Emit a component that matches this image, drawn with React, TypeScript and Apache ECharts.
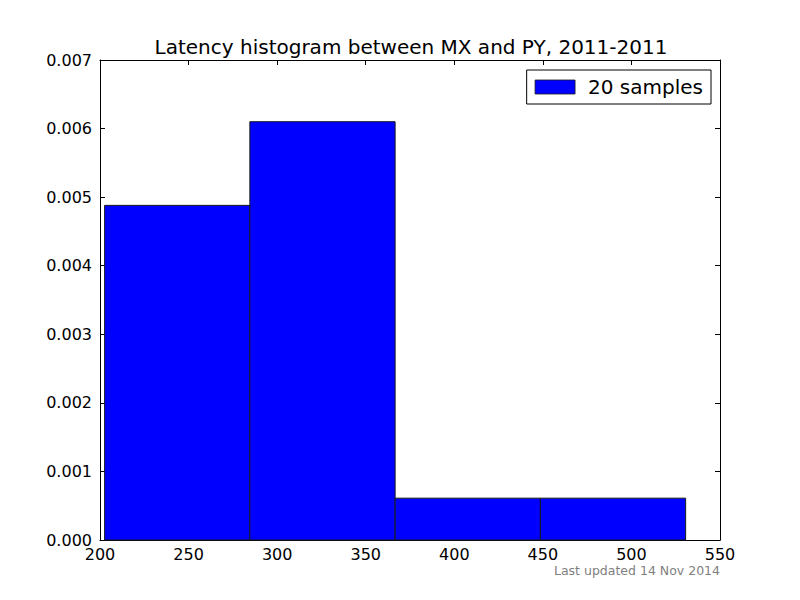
import React, { useEffect, useRef } from "react";
import * as echarts from "echarts";

const binEdges: number[] = [202.6, 284.6, 366.6, 448.6, 530.6];
const densities: number[] = [0.00488, 0.0061, 0.00061, 0.00061];
const xTicks = { min: 200, max: 550, interval: 50 };
const yTicks = { min: 0, max: 0.007, interval: 0.001 };
const seriesName = "20 samples";
const titleText = "Latency histogram between MX and PY, 2011-2011";
const footerText = "Last updated 14 Nov 2014";

const FONT = "DejaVu Sans";

export default function App() {
  const ref = useRef<HTMLDivElement>(null);
  useEffect(() => {
    if (!ref.current) return;
    const chart = echarts.init(ref.current, undefined, { renderer: "svg" });
    const data = densities.map((d, i) => [binEdges[i], binEdges[i + 1], d]);
    const axisCommon = {
      type: "value" as const,
      axisLine: { show: true, onZero: false, lineStyle: { color: "#000", width: 1 } },
      axisTick: { show: true, inside: true, length: 5, lineStyle: { color: "#000" } },
      splitLine: { show: false },
    };
    chart.setOption({
      animation: false,
      backgroundColor: "#fff",
      grid: { left: 100, right: 80, top: 60, bottom: 60 },
      xAxis: [
        {
          ...axisCommon,
          ...xTicks,
          position: "bottom",
          axisLabel: { color: "#000", fontFamily: FONT, fontSize: 16, margin: 6 },
        },
        {
          ...axisCommon,
          ...xTicks,
          position: "top",
          axisLabel: { show: false },
        },
      ],
      yAxis: [
        {
          ...axisCommon,
          ...yTicks,
          position: "left",
          axisLabel: {
            color: "#000",
            fontFamily: FONT,
            fontSize: 16,
            margin: 8,
            formatter: (v: number) => v.toFixed(3),
          },
        },
        {
          ...axisCommon,
          ...yTicks,
          position: "right",
          axisLabel: { show: false },
        },
      ],
      legend: {
        data: [{ name: seriesName, icon: "rect" }],
        right: 89,
        top: 70,
        itemWidth: 40,
        itemHeight: 14,
        itemGap: 0,
        itemStyle: { borderWidth: 0.8, borderColor: "#1a1a1a" },
        padding: [7, 8, 7, 8],
        borderColor: "#000",
        borderWidth: 1,
        backgroundColor: "#fff",
        textStyle: { fontFamily: FONT, fontSize: 20, color: "#000", padding: [0, 0, 0, 8] },
      },
      graphic: [
        {
          type: "text",
          x: 411,
          y: 47,
          style: {
            text: titleText,
            fontFamily: FONT,
            fontSize: 20,
            fill: "#000",
            textAlign: "center",
            textVerticalAlign: "middle",
          },
        },
        {
          type: "text",
          x: 720,
          y: 570,
          style: {
            text: footerText,
            fontFamily: FONT,
            fontSize: 12.5,
            fill: "#808080",
            textAlign: "right",
            textVerticalAlign: "middle",
          },
        },
      ],
      series: [
        {
          type: "custom",
          name: seriesName,
          xAxisIndex: 0,
          yAxisIndex: 0,
          itemStyle: { color: "#0000ff", borderColor: "#1a1a1a", borderWidth: 0.8 },
          encode: { x: [0, 1], y: 2 },
          data,
          renderItem: (params: any, api: any) => {
            const p0 = api.coord([api.value(0), api.value(2)]);
            const p1 = api.coord([api.value(1), 0]);
            return {
              type: "rect",
              shape: { x: p0[0], y: p0[1], width: p1[0] - p0[0], height: p1[1] - p0[1] },
              style: { fill: "#0000ff", stroke: "#1a1a1a", lineWidth: 1 },
            };
          },
        },
      ],
    });
    return () => chart.dispose();
  }, []);
  return (
    <div
      ref={ref}
      style={{ position: "fixed", left: 0, top: 0, width: 800, height: 600, background: "#fff" }}
    />
  );
}
